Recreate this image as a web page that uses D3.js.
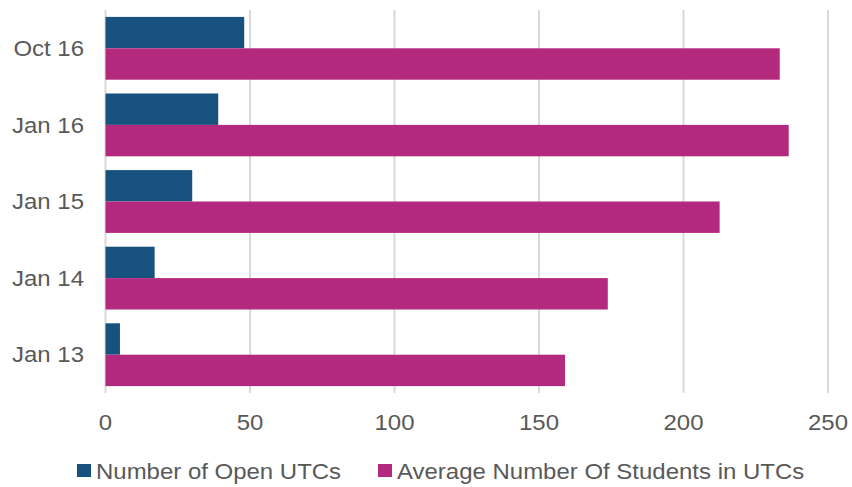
<!DOCTYPE html>
<html>
<head>
<meta charset="utf-8">
<script src="https://cdn.jsdelivr.net/npm/d3@7"></script>
<style>
    body { margin: 0; background: #fff; }
    text { font-family: "Liberation Sans", Arial, sans-serif; fill: #595959; }
</style>
</head>
<body>
<div class="chart-container"></div>
<script>
// Data.
const periods = ['Oct 16', 'Jan 16', 'Jan 15', 'Jan 14', 'Jan 13'];
const openUtcs = [48, 39, 30, 17, 5];
const avgStudents = [233.3, 236.4, 212.5, 173.8, 159];
const seriesNames = ['Number of Open UTCs', 'Average Number Of Students in UTCs'];
const seriesColors = ['#17527f', '#b3297e'];
const xTicks = [0, 50, 100, 150, 200, 250];

function buildChart() {
    const width = 852;
    const height = 487;
    const margin = {top: 10, right: 24, bottom: 94, left: 105.5};
    const stretch = 1.09; // text in the source is a little wide

    const rows = periods.map((p, i) => ({period: p, values: [openUtcs[i], avgStudents[i]]}));

    // Build scales.
    const x = d3.scaleLinear()
        .domain([0, 250])
        .range([margin.left, width - margin.right]);

    const y = d3.scaleBand()
        .domain(periods)
        .range([margin.top, height - margin.bottom])
        .paddingInner(0.18)
        .paddingOuter(0.09);

    const ySeries = d3.scaleBand()
        .domain([0, 1])
        .range([0, y.bandwidth()]);

    // Build container.
    const svg = d3.select('.chart-container')
        .append('svg')
        .attr('width', width)
        .attr('height', height);

    // Gridlines.
    svg.append('g')
        .selectAll('line')
        .data(xTicks)
        .join('line')
        .attr('x1', d => x(d))
        .attr('x2', d => x(d))
        .attr('y1', margin.top)
        .attr('y2', height - margin.bottom)
        .attr('stroke', '#d9d9d9')
        .attr('stroke-width', 2);

    // Bars.
    svg.append('g')
        .selectAll('g')
        .data(rows)
        .join('g')
        .attr('transform', d => `translate(0,${y(d.period)})`)
        .selectAll('rect')
        .data(d => d.values.map((v, i) => ({v, i})))
        .join('rect')
        .attr('x', x(0))
        .attr('y', d => ySeries(d.i))
        .attr('width', d => x(d.v) - x(0))
        .attr('height', ySeries.bandwidth())
        .attr('fill', d => seriesColors[d.i]);

    // Category labels.
    svg.append('g')
        .selectAll('text')
        .data(periods)
        .join('text')
        .attr('transform', d => `translate(84,${y(d) + y.bandwidth() / 2}) scale(${stretch},1)`)
        .attr('text-anchor', 'end')
        .attr('dy', '0.35em')
        .style('font-size', '22px')
        .text(d => d);

    // X axis labels.
    svg.append('g')
        .selectAll('text')
        .data(xTicks)
        .join('text')
        .attr('transform', d => `translate(${x(d)},430) scale(${stretch},1)`)
        .attr('text-anchor', 'middle')
        .style('font-size', '22px')
        .text(d => d);

    // Legend.
    const legendX = [77, 378];
    const legend = svg.append('g')
        .selectAll('g')
        .data(seriesNames)
        .join('g')
        .attr('transform', (d, i) => `translate(${legendX[i]},464)`);

    legend.append('rect')
        .attr('width', 14)
        .attr('height', 13)
        .attr('fill', (d, i) => seriesColors[i]);

    legend.append('text')
        .attr('transform', `translate(19,14.5) scale(${stretch},1)`)
        .style('font-size', '22px')
        .text(d => d);
}

buildChart();
</script>
</body>
</html>
